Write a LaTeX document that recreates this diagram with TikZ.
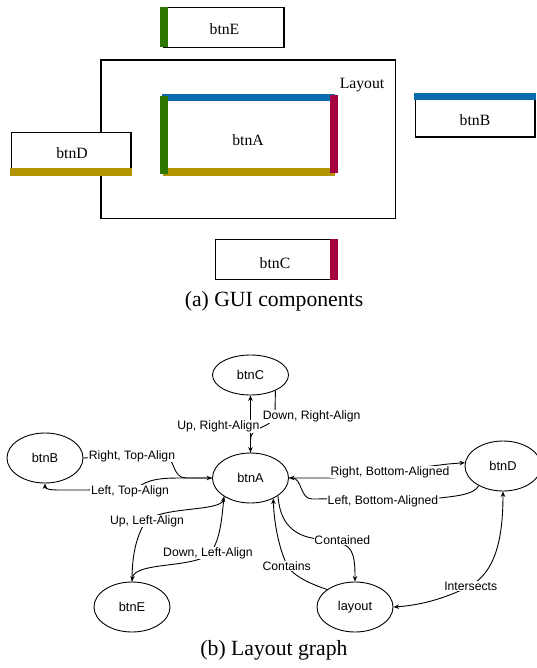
\documentclass[tikz,border=0pt]{standalone}
\usepackage{fontspec}
\setmainfont{Liberation Serif}
\newfontfamily\arialf{Liberation Sans}
\usetikzlibrary{shapes.geometric,arrows.meta}
\definecolor{barblue}{HTML}{0B6CAE}
\definecolor{bargreen}{HTML}{2D7600}
\definecolor{barred}{HTML}{A50040}
\definecolor{baryellow}{HTML}{B09500}
\begin{document}
\begin{tikzpicture}[x=1pt,y=-1pt,
  box/.style={draw=black,line width=1.1pt,fill=white},
  guitext/.style={font=\fontsize{15.7}{18}\selectfont,inner sep=0pt},
  captext/.style={font=\fontsize{21.7}{26}\selectfont,inner sep=0pt},
  gnode/.style={ellipse,draw,line width=0.9pt,minimum width=76pt,minimum height=50pt,
                inner sep=0pt,font=\arialf\fontsize{12.8}{15}\selectfont},
  elabel/.style={fill=white,inner sep=0.6pt,font=\arialf\fontsize{12.2}{14}\selectfont},
  conn/.style={line width=0.9pt,-{Stealth[length=5.5pt,width=4.5pt]}},
  conn2/.style={line width=0.9pt,{Stealth[length=5.5pt,width=4.5pt]}-{Stealth[length=5.5pt,width=4.5pt]}},
]
\useasboundingbox (0,0) rectangle (537,668);

% ---------- (a) GUI components ----------
% layout container
\draw[box] (101,60) rectangle (395.5,218.5);
\node[guitext] (layoutlbl) at (362,85) {Layout};

% btnE with its left edge marked
\draw[box] (164,7.5) rectangle (284,47.5);
\fill[bargreen] (160,7.5) rectangle (167.5,47.5);
\node[guitext] (guiE) at (224.5,29) {btnE};

% btnA: all four edges marked
\fill[barblue] (161.6,94.3) rectangle (334.6,101.2);
\fill[baryellow] (162.7,167.7) rectangle (335,175.7);
\fill[bargreen] (160,96) rectangle (167.5,174.5);
\fill[barred] (330,95) rectangle (337.7,173.3);
\node[guitext] (guiA) at (248,140) {btnA};

% btnD overlapping the container
\draw[box] (11.5,132.3) rectangle (131,170);
\fill[baryellow] (10.3,167.7) rectangle (131.5,175.7);
\node[guitext] (guiD) at (72,152.7) {btnD};

% btnB
\draw[box] (415.5,96) rectangle (535,137);
\fill[barblue] (414.4,92.7) rectangle (535.5,100);
\node[guitext] (guiB) at (475,120) {btnB};

% btnC
\draw[box] (215.4,239.3) rectangle (335.6,279.7);
\fill[barred] (330,239) rectangle (337.7,279.7);
\node[guitext] (guiC) at (275,263.3) {btnC};

\node[captext] (capA) at (274,301) {(a) GUI components};

% ---------- (b) Layout graph ----------
\node[gnode,minimum height=40pt] (C) at (250.5,375) {btnC};
\node[gnode] (B) at (45,458) {btnB};
\node[gnode] (A) at (250.5,478) {btnA};
\node[gnode] (D) at (503,466) {btnD};
\node[gnode] (E) at (132,607) {btnE};
\node[gnode] (L) at (355,607) {layout};

% btnA <-> btnC
\draw[conn] (A.north) -- (C.south);
\draw[conn] (C.-32) -- (275,412) .. controls (275,430) and (250.5,424) .. (250.5,440) -- (A.north);

% btnA <-> btnB
\draw[conn] (B.east) -- (100,457) -- (165,457) .. controls (175,457) and (172,478) .. (186,478) -- (A.west);
\draw[conn] (A.west) -- (182,478) .. controls (160,478) and (150,479) .. (138,487) -- (88,490) -- (60,490)
  .. controls (50,490) and (45,489) .. (B.south);

% btnA <-> btnE
\draw[conn] (E.north) .. controls (132,555) and (136,538) .. (145,522)
  .. controls (160,506) and (221,512) .. (A.-145);
\draw[conn] (A.-145) .. controls (222,515) and (221,535) .. (213,549)
  .. controls (205,570) and (134,560) .. (E.north);

% btnA <-> btnD
\draw[conn] (A.east) -- (332,478) -- (448,464) -- (D.175);
\draw[conn] (D.-141) .. controls (474,495) and (455,496) .. (440,498) -- (312,499)
  .. controls (300,499) and (302,478) .. (A.east);

% btnA <-> layout
\draw[conn] (A.-33) .. controls (280,522) and (292,536) .. (318,539) -- (345,545)
  .. controls (355,550) and (355,565) .. (L.north);
\draw[conn] (L.148) .. controls (314,585) and (296,578) .. (288,567)
  .. controls (280,552) and (274,525) .. (A.-42);

% layout <-> btnD
\draw[conn2] (L.east) .. controls (425,605) and (450,596) .. (470,586)
  .. controls (495,572) and (503,540) .. (D.south);

% edge labels
\node[elabel] (lUR) at (218.3,426.7) {Up, Right-Align};
\node[elabel] (lDR) at (311.7,416.7) {Down, Right-Align};
\node[elabel] (lRT) at (132,456) {Right, Top-Align};
\node[elabel] (lLT) at (130,491) {Left, Top-Align};
\node[elabel] (lUL) at (147,521) {Up, Left-Align};
\node[elabel] (lDL) at (208,553) {Down, Left-Align};
\node[elabel] (lRB) at (390,472) {Right, Bottom-Aligned};
\node[elabel] (lLB) at (383,501) {Left, Bottom-Aligned};
\node[elabel] (lCd) at (342.3,540) {Contained};
\node[elabel] (lCs) at (286.7,566) {Contains};
\node[elabel] (lIn) at (470.7,586) {Intersects};

\node[captext] (capB) at (274,650) {(b) Layout graph};
\end{tikzpicture}
\end{document}
